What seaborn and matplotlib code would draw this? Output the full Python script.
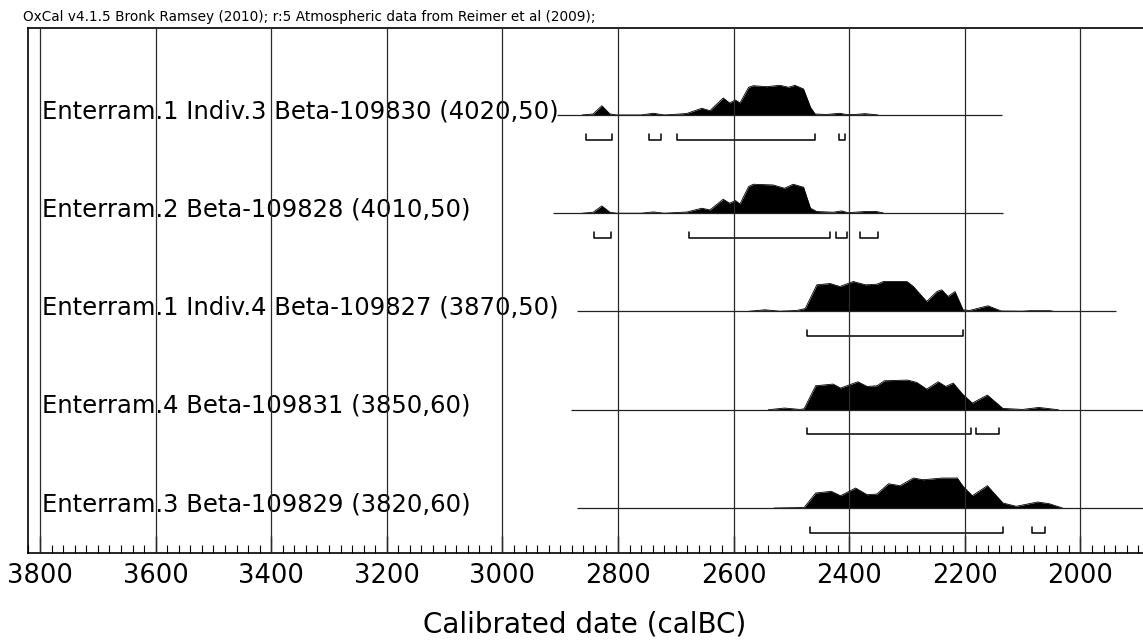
import numpy as np
import pandas as pd
import matplotlib
matplotlib.use("Agg")
import matplotlib.pyplot as plt
import seaborn as sns
from matplotlib.ticker import MultipleLocator

# Sample labels (top to bottom)
labels = [
    "Enterram.1 Indiv.3 Beta-109830 (4020,50)",
    "Enterram.2 Beta-109828 (4010,50)",
    "Enterram.1 Indiv.4 Beta-109827 (3870,50)",
    "Enterram.4 Beta-109831 (3850,60)",
    "Enterram.3 Beta-109829 (3820,60)",
]

# Probability distributions (year calBC, relative height 0-30)
years1 = [2862, 2843, 2828, 2814, 2802, 2760, 2739, 2720, 2704, 2681, 2655, 2641, 2618, 2607, 2597,
          2589, 2574, 2566, 2543, 2520, 2505, 2494, 2479, 2467, 2459, 2440, 2416, 2404, 2390, 2373, 2350]
prob1 = [0, 1, 9.3, 1, 0, 0, 1.7, 0, 0.5, 1.5, 6.7, 4.3, 17, 12, 15,
         12, 27.7, 29.3, 28.3, 29.7, 27.7, 29.7, 26, 7.7, 1, 0.5, 1.7, 0.3, 0.5, 1.3, 0]

years2 = [2862, 2843, 2828, 2814, 2802, 2760, 2739, 2720, 2704, 2681, 2655, 2641, 2618, 2607, 2597,
          2589, 2574, 2566, 2532, 2512, 2497, 2479, 2467, 2456, 2428, 2413, 2402, 2373, 2353, 2341]
prob2 = [0, 1, 7.3, 1, 0, 0, 1.3, 0, 0.5, 1.2, 5, 3.3, 14, 10, 12.7,
         9.3, 26.7, 29, 28.3, 25, 29, 26, 5, 1.7, 1, 2.3, 0.5, 1.7, 1.7, 0.3]

years3 = [2577, 2546, 2520, 2491, 2476, 2456, 2433, 2416, 2393, 2372, 2352, 2341, 2300, 2289, 2266,
          2248, 2240, 2229, 2217, 2203, 2192, 2160, 2137, 2100, 2088, 2053, 2045]
prob3 = [0, 1.7, 0.3, 1, 3, 26.7, 28, 25, 30, 26.7, 27.3, 30, 30, 25, 10,
         20, 21.7, 15, 20, 1.7, 1, 5.7, 0.5, 0.3, 0.8, 0.8, 0]

years4 = [2540, 2512, 2485, 2478, 2458, 2428, 2415, 2385, 2369, 2352, 2339, 2299, 2283, 2266, 2246,
          2233, 2220, 2204, 2187, 2161, 2134, 2100, 2072, 2038]
prob4 = [0, 1.7, 0.3, 1, 24, 25.7, 21.7, 28, 23.3, 24, 29, 29.7, 27.3, 20.7, 28,
         23.3, 26.7, 15.7, 6.7, 14.7, 1.3, 0.3, 2.3, 0]

years5 = [2530, 2478, 2458, 2431, 2415, 2389, 2369, 2352, 2332, 2312, 2289, 2272, 2239, 2213, 2203,
          2187, 2161, 2134, 2111, 2074, 2054, 2031]
prob5 = [0, 0.5, 15, 16.7, 12.3, 20, 13.3, 14, 24.3, 22.3, 30, 28.3, 30, 30, 21.7,
         12.3, 22.3, 5, 1.7, 6, 4.3, 0]

# Extent of each baseline (calBC)
line_start = [2905, 2912, 2871, 2881, 2871]
line_end = [2135, 2134, 1938, 1880, 1880]

# 95.4% ranges (brackets)
ranges1 = [(2856, 2811), (2747, 2726), (2698, 2459), (2417, 2408)]
ranges2 = [(2841, 2812), (2677, 2434), (2423, 2403), (2381, 2350)]
ranges3 = [(2473, 2203)]
ranges4 = [(2473, 2190), (2181, 2141)]
ranges5 = [(2468, 2134), (2083, 2061)]

years_all = [years1, years2, years3, years4, years5]
prob_all = [prob1, prob2, prob3, prob4, prob5]
ranges_all = [ranges1, ranges2, ranges3, ranges4, ranges5]

major_ticks = [3800, 3600, 3400, 3200, 3000, 2800, 2600, 2400, 2200, 2000]

sns.set_theme(style="white")
plt.rcParams['font.family'] = ['DejaVu Sans']
plt.rcParams['text.color'] = 'black'

fig = plt.figure(figsize=(11.43, 6.4), dpi=100)
ax = fig.add_axes([28 / 1143, 87 / 640, 1 - 28 / 1143, 525 / 640])

peak_scale = 0.305 / 30   # 30 px of peak height in row units
for i in range(len(labels)):
    yrs = np.array(years_all[i])
    p = np.array(prob_all[i]) * peak_scale
    ax.fill_between(yrs, i, i - p, color="black", lw=0, zorder=2)
    df = pd.DataFrame({"year": yrs, "y": i - p})
    sns.lineplot(data=df, x="year", y="y", ax=ax, color="black", lw=0.6,
                 sort=False, estimator=None, zorder=2)
    ax.hlines(i, line_start[i], line_end[i], color="#222222", lw=0.9, zorder=2)
    for a, b in ranges_all[i]:
        yb = i + 0.25
        ax.plot([a, a, b, b], [yb - 0.06, yb, yb, yb - 0.06], color="black", lw=1.1, zorder=2)
    ax.text(3797, i - 0.04, labels[i], fontsize=17.5, va="center", ha="left",
            color="black", zorder=1)

for t in major_ticks:
    ax.axvline(t, color="#2a2a2a", lw=0.9, zorder=4)

ax.set_xlim(3820.8, 1891.7)
ax.set_ylim(4.458, -0.885)
ax.set_xlabel("")
ax.set_ylabel("")
ax.set_yticks([])
ax.xaxis.set_major_locator(MultipleLocator(200))
ax.xaxis.set_minor_locator(MultipleLocator(20))
ax.tick_params(axis="x", which="major", direction="in", length=12, width=1, color="black",
               labelsize=18.5, pad=7, bottom=True, top=False, labelcolor="black")
ax.tick_params(axis="x", which="minor", direction="in", length=6, width=0.8, color="black",
               bottom=True, top=False)
for side in ["left", "top", "bottom"]:
    ax.spines[side].set_visible(True)
    ax.spines[side].set_color("black")
    ax.spines[side].set_linewidth(1.2)
ax.spines["right"].set_visible(False)

fig.text(585 / 1143, 1 - 625 / 640, "Calibrated date (calBC)", fontsize=20, ha="center",
         va="center", color="black")
fig.text(23 / 1143, 1 - 17 / 640,
         "OxCal v4.1.5 Bronk Ramsey (2010); r:5 Atmospheric data from Reimer et al (2009);",
         fontsize=9.8, ha="left", va="center", color="black")

fig.savefig("out.png", dpi=100)
